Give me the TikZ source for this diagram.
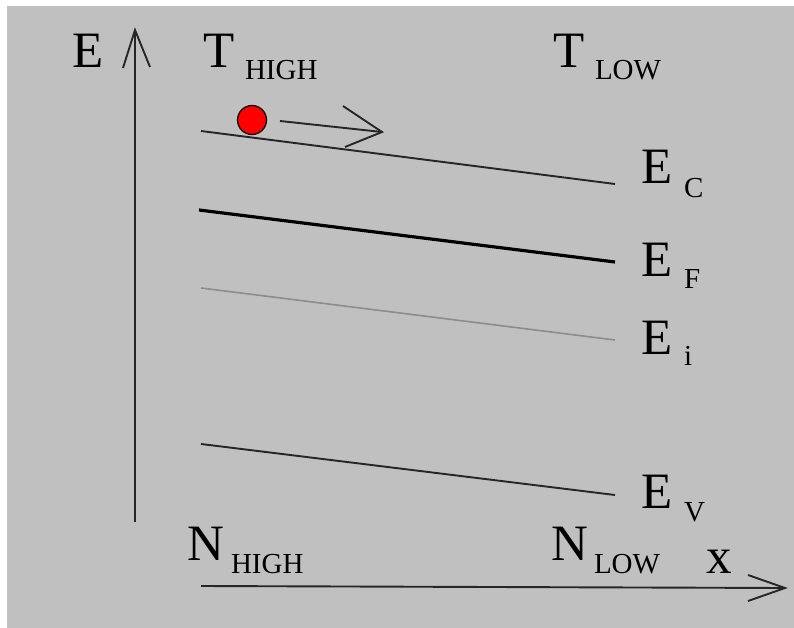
\documentclass[tikz,border=0pt]{standalone}
\usepackage{fontspec}
\setmainfont{Liberation Serif}
\definecolor{bggray}{HTML}{C0C0C0}
\definecolor{ink}{HTML}{262626}
\definecolor{midgray}{HTML}{8C8C8C}
\begin{document}
\begin{tikzpicture}[x=1pt,y=-1pt,
  big/.style={anchor=base west,inner sep=0pt,outer sep=0pt,font=\fontsize{51}{51}\selectfont},
  small/.style={anchor=base west,inner sep=0pt,outer sep=0pt,font=\fontsize{29}{29}\selectfont},
  band/.style={line width=1.9pt,draw=ink},
  axisline/.style={line width=1.9pt,draw=ink},
  ball/.style={circle,fill=red,draw=black,line width=1.2pt,minimum size=29pt,inner sep=0pt}]
\useasboundingbox (0,0) rectangle (794,628);
\fill[white] (0,0) rectangle (794,628);
\fill[bggray] (7,6) rectangle (794,628);

% axes
\coordinate (ytop) at (135,30);
\coordinate (ybot) at (135,522);
\coordinate (yh1) at (123,68);
\coordinate (yh2) at (150,67);
\draw[axisline] (ybot) -- (ytop);
\draw[axisline] (yh1) -- (ytop) -- (yh2);
\coordinate (xl) at (201,586);
\coordinate (xr) at (785,588);
\coordinate (xh1) at (748,575);
\coordinate (xh2) at (748,601);
\draw[axisline] (xl) -- (xr);
\draw[axisline] (xh1) -- (xr) -- (xh2);

% bands
\coordinate (c1) at (201,131); \coordinate (c2) at (615,184);
\coordinate (f1) at (199,210); \coordinate (f2) at (615,262);
\coordinate (i1) at (201,288); \coordinate (i2) at (615,340);
\coordinate (v1) at (201,444); \coordinate (v2) at (615,495);
\draw[band] (c1) -- (c2);
\draw[line width=3.2pt,draw=black] (f1) -- (f2);
\draw[line width=1.6pt,draw=midgray] (i1) -- (i2);
\draw[band] (v1) -- (v2);

% electron and motion arrow
\node[ball] (el) at (252,120) {};
\coordinate (m1) at (280,121);
\coordinate (m2) at (382,132);
\coordinate (mh1) at (343,106);
\coordinate (mh2) at (345,147);
\draw[band] (m1) -- (m2);
\draw[band] (mh1) -- (m2) -- (mh2);

% labels
\node[big] (E) at (72,68) {E};
\node[big] (Th) at (203,68) {T};
\node[small] (Ths) at (245,80) {HIGH};
\node[big] (Tl) at (553,68) {T};
\node[small] (Tls) at (595,80) {LOW};
\node[big] (Ec) at (641,184) {E};
\node[small] (Ecs) at (684,198) {C};
\node[big] (Ef) at (641,276) {E};
\node[small] (Efs) at (684,288) {F};
\node[big] (Ei) at (641,354) {E};
\node[small] (Eis) at (684,365) {i};
\node[big] (Ev) at (641,508) {E};
\node[small] (Evs) at (684,521) {V};
\node[big] (Nh) at (187,560) {N};
\node[small] (Nhs) at (231,573) {HIGH};
\node[big] (Nl) at (551,560) {N};
\node[small] (Nls) at (594,573) {LOW};
\node[big] (X) at (706,573) {x};
\end{tikzpicture}
\end{document}
